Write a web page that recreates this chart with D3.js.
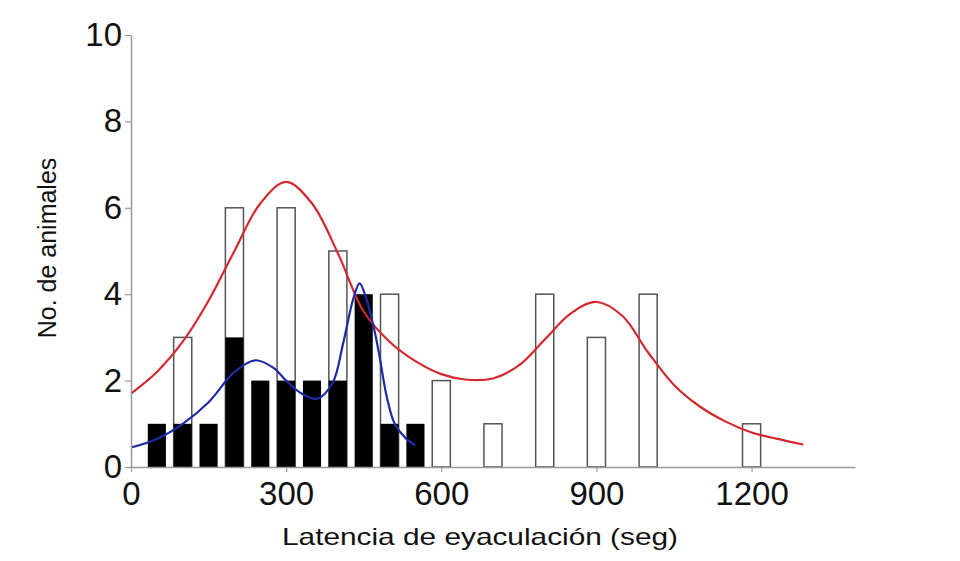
<!DOCTYPE html>
<html>
<head>
<meta charset="utf-8">
<script src="https://cdn.jsdelivr.net/npm/d3@7"></script>
<style>
  body { margin: 0; background: #fff; }
  text { font-family: "Liberation Sans", Arial, sans-serif; fill: #111; }
</style>
</head>
<body>
<div id="chart"></div>
<script>
// histogram counts, white bars (every 100 s)
const whiteBins = [100, 200, 300, 400, 500, 600, 700, 800, 900, 1000, 1200];
const whiteCounts = [3, 6, 6, 5, 4, 2, 1, 4, 3, 4, 1];

// black bars (every 50 s)
const blackBins = [50, 100, 150, 200, 250, 300, 350, 400, 450, 500, 550];
const blackCounts = [1, 1, 1, 3, 2, 2, 2, 2, 4, 1, 1];

// red fitted curve
const redX = [0, 50, 100, 150, 200, 250, 300, 350, 400, 450, 500, 550, 600, 650, 700, 750, 800, 850, 900, 950, 1000, 1050, 1100, 1150, 1200, 1250, 1300];
const redY = [1.7, 2.2, 2.9, 3.85, 5.0, 6.1, 6.6, 6.1, 4.95, 3.6, 2.9, 2.45, 2.15, 2.02, 2.05, 2.35, 2.95, 3.55, 3.82, 3.5, 2.65, 1.9, 1.4, 1.05, 0.8, 0.65, 0.52];

// blue fitted curve
const blueX = [0, 50, 100, 150, 200, 240, 275, 300, 330, 360, 390, 410, 430, 442, 455, 470, 480, 495, 510, 530, 550];
const blueY = [0.45, 0.65, 1.0, 1.5, 2.2, 2.47, 2.3, 2.0, 1.7, 1.58, 1.95, 2.85, 3.9, 4.25, 3.9, 3.2, 2.6, 1.6, 1.0, 0.68, 0.5];

const xTicks = [0, 300, 600, 900, 1200];
const yTicks = [0, 2, 4, 6, 8, 10];

const width = 960, height = 561;
const barW = 35; // in seconds

const svg = d3.select('#chart')
    .append('svg')
    .attr('width', width)
    .attr('height', height);

const x = d3.scaleLinear().domain([0, 1400]).range([131, 855]);
const y = d3.scaleLinear().domain([0, 10]).range([467, 35]);

//white bars first, black ones go on top
svg.append('g')
    .selectAll('rect')
    .data(whiteBins)
    .enter().append('rect')
    .attr('x', (d) => x(d - barW / 2))
    .attr('width', x(barW) - x(0))
    .attr('y', (d, i) => y(whiteCounts[i]))
    .attr('height', (d, i) => y(0) - y(whiteCounts[i]))
    .attr('fill', '#fff')
    .attr('stroke', '#555')
    .attr('stroke-width', 1.5);

svg.append('g')
    .selectAll('rect')
    .data(blackBins)
    .enter().append('rect')
    .attr('x', (d) => x(d - barW / 2))
    .attr('width', x(barW) - x(0))
    .attr('y', (d, i) => y(blackCounts[i]))
    .attr('height', (d, i) => y(0) - y(blackCounts[i]))
    .attr('fill', '#000');

//curves
const line = d3.line()
    .x((d) => x(d[0]))
    .y((d) => y(d[1]))
    .curve(d3.curveCatmullRom.alpha(0.5));

svg.append('path')
    .datum(redX.map((v, i) => [v, redY[i]]))
    .attr('d', line)
    .attr('fill', 'none')
    .attr('stroke', '#d4282e')
    .attr('stroke-width', 2.2);

svg.append('path')
    .datum(blueX.map((v, i) => [v, blueY[i]]))
    .attr('d', line)
    .attr('fill', 'none')
    .attr('stroke', '#1f2aa8')
    .attr('stroke-width', 2.2);

//axes
const xAxis = svg.append('g')
    .attr('transform', `translate(0, ${y(0)})`)
    .call(d3.axisBottom(x).tickValues(xTicks).tickFormat(d3.format('d'))
        .tickSize(5).tickSizeOuter(0).tickPadding(10));

const yAxis = svg.append('g')
    .attr('transform', `translate(${x(0)}, 0)`)
    .call(d3.axisLeft(y).tickValues(yTicks).tickSize(6).tickSizeOuter(0).tickPadding(3));

[xAxis, yAxis].forEach(function(g) {
    g.select('.domain').attr('stroke', '#999').attr('stroke-width', 1.5);
    g.selectAll('.tick line').attr('stroke', '#999').attr('stroke-width', 1.2);
    g.selectAll('.tick text')
        .attr('fill', '#111')
        .style('font-size', '33px')
        .style('font-family', '"Liberation Sans", Arial, sans-serif');
});

//axis titles
svg.append('text')
    .attr('x', 480)
    .attr('y', 545)
    .attr('text-anchor', 'middle')
    .attr('textLength', 396)
    .attr('lengthAdjust', 'spacingAndGlyphs')
    .style('font-size', '24px')
    .text('Latencia de eyaculación (seg)');

svg.append('text')
    .attr('transform', 'translate(56, 248) rotate(-90)')
    .attr('text-anchor', 'middle')
    .style('font-size', '25px')
    .text('No. de animales');
</script>
</body>
</html>
